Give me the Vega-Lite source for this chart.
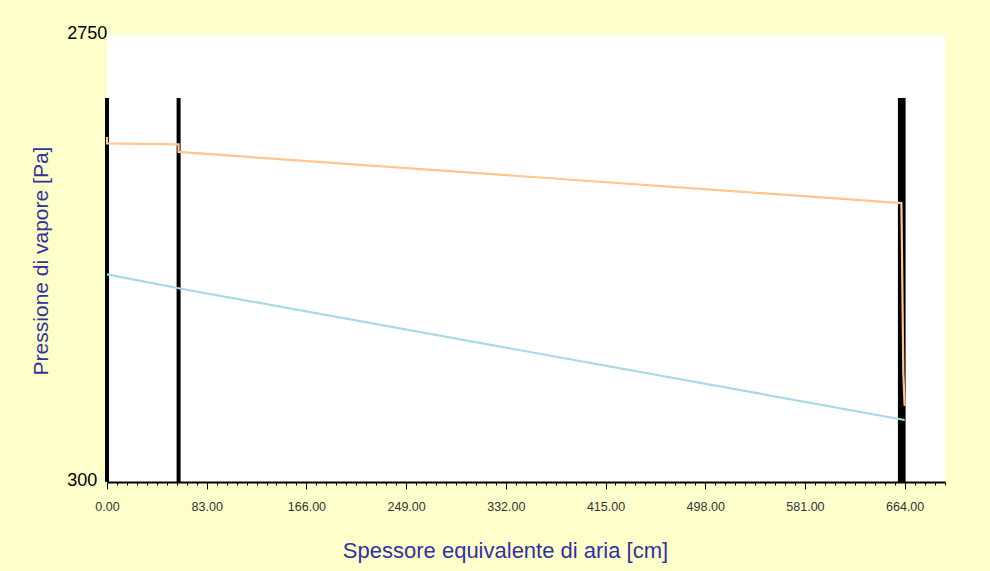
{
  "$schema": "https://vega.github.io/schema/vega-lite/v6.json",
  "width": 838,
  "height": 447,
  "autosize": {"type": "none"},
  "padding": {"left": 107, "top": 35, "right": 45, "bottom": 89},
  "background": "#FFFFCC",
  "config": {
    "view": {"fill": "white", "stroke": null},
    "font": "Liberation Sans"
  },
  "datasets": {
    "confini": [
      {"sd": 0, "p": 300, "p_cima": 2405},
      {"sd": 59.6, "p": 300, "p_cima": 2405}
    ],
    "strato_finale": [{"sd": 658.4, "sd_fine": 664.8, "p": 300, "p_cima": 2405}],
    "pressioni": [
      {"serie": "saturazione", "i": 1, "sd": 0, "p": 2191},
      {"serie": "saturazione", "i": 2, "sd": 0, "p": 2156},
      {"serie": "saturazione", "i": 3, "sd": 59.6, "p": 2151},
      {"serie": "saturazione", "i": 4, "sd": 59.6, "p": 2109},
      {"serie": "saturazione", "i": 5, "sd": 661.3, "p": 1829},
      {"serie": "saturazione", "i": 6, "sd": 661.7, "p": 1610},
      {"serie": "saturazione", "i": 7, "sd": 662.9, "p": 897},
      {"serie": "saturazione", "i": 8, "sd": 664, "p": 717},
      {"serie": "parziale", "i": 1, "sd": 0, "p": 1438},
      {"serie": "parziale", "i": 2, "sd": 59.6, "p": 1362},
      {"serie": "parziale", "i": 3, "sd": 664, "p": 640}
    ]
  },
  "encoding": {
    "x": {
      "field": "sd",
      "type": "quantitative",
      "title": "Spessore equivalente di aria [cm]",
      "scale": {"domain": [0, 697.6], "nice": false, "zero": false},
      "axis": {
        "values": [0, 8.3, 16.6, 24.9, 33.2, 41.5, 49.8, 58.1, 66.4, 74.7, 83, 91.3, 99.6, 107.9, 116.2, 124.5, 132.8, 141.1, 149.4, 157.7, 166, 174.3, 182.6, 190.9, 199.2, 207.5, 215.8, 224.1, 232.4, 240.7, 249, 257.3, 265.6, 273.9, 282.2, 290.5, 298.8, 307.1, 315.4, 323.7, 332, 340.3, 348.6, 356.9, 365.2, 373.5, 381.8, 390.1, 398.4, 406.7, 415, 423.3, 431.6, 439.9, 448.2, 456.5, 464.8, 473.1, 481.4, 489.7, 498, 506.3, 514.6, 522.9, 531.2, 539.5, 547.8, 556.1, 564.4, 572.7, 581, 589.3, 597.6, 605.9, 614.2, 622.5, 630.8, 639.1, 647.4, 655.7, 664, 672.3, 680.6, 688.9, 697.2],
        "tickSize": {"condition": {"test": "abs(datum.value / 83 - round(datum.value / 83)) < 0.001", "value": 7}, "value": 3},
        "tickColor": "black",
        "tickWidth": 1,
        "domainColor": "black",
        "domainWidth": 2,
        "grid": false,
        "labelExpr": "abs(datum.value / 83 - round(datum.value / 83)) < 0.001 ? format(datum.value, '.2f') : ''",
        "labelFontSize": 12.5,
        "labelColor": "#333333",
        "labelPadding": 11,
        "labelFlush": false,
        "labelOverlap": false,
        "titleFontSize": 22,
        "titleFontWeight": "normal",
        "titleColor": "#333399",
        "titleX": 398,
        "titleY": 75,
        "titleAlign": "center",
        "titleBaseline": "alphabetic"
      }
    },
    "y": {
      "field": "p",
      "type": "quantitative",
      "title": "Pressione di vapore [Pa]",
      "scale": {"domain": [300, 2750], "nice": false, "zero": false},
      "axis": {
        "values": [300, 2750],
        "format": "d",
        "ticks": false,
        "tickSize": 0,
        "domain": false,
        "grid": false,
        "labelAlign": "left",
        "labelBaseline": "alphabetic",
        "labelOffset": 3,
        "labelPadding": 40.3,
        "labelFontSize": 18,
        "labelColor": "black",
        "labelFlush": false,
        "labelOverlap": false,
        "titleFontSize": 21,
        "titleFontWeight": "normal",
        "titleColor": "#333399",
        "titleAngle": -90,
        "titleX": -60,
        "titleY": 225.5,
        "titleAlign": "center",
        "titleBaseline": "alphabetic"
      }
    }
  },
  "layer": [
    {
      "data": {"name": "confini"},
      "mark": {"type": "rule", "color": "black", "strokeWidth": 4},
      "encoding": {
        "y2": {"field": "p_cima"}
      }
    },
    {
      "data": {"name": "strato_finale"},
      "mark": {"type": "rect", "color": "black"},
      "encoding": {
        "x2": {"field": "sd_fine"},
        "y2": {"field": "p_cima"}
      }
    },
    {
      "data": {"name": "pressioni"},
      "mark": {"type": "line", "strokeWidth": 2.2, "strokeJoin": "miter"},
      "encoding": {
        "color": {
          "field": "serie",
          "type": "nominal",
          "scale": {"domain": ["saturazione", "parziale"], "range": ["#FFC690", "#A8D8E6"]},
          "legend": null
        },
        "order": {"field": "i", "type": "quantitative"}
      }
    }
  ]
}
